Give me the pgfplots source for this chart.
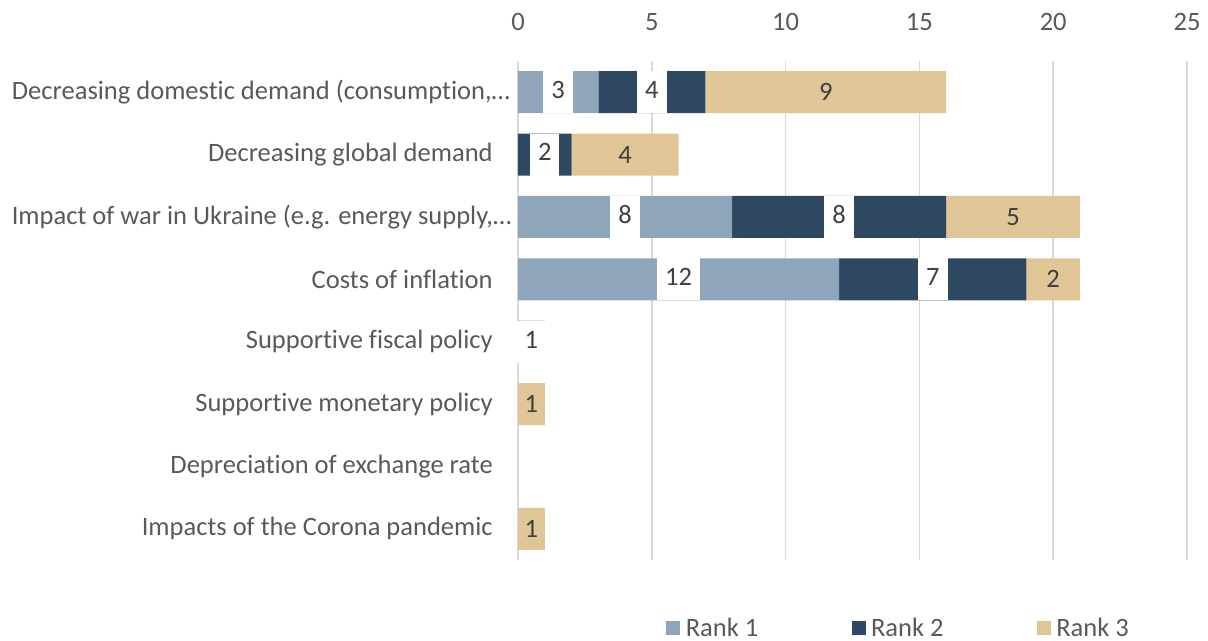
\documentclass[border=0pt]{standalone}
\usepackage{pgfplots}
\usepackage{pgfplotstable}
\usepackage{fontspec}
\setmainfont{Carlito}[Ligatures=NoCommon]
\pgfplotsset{compat=1.18}
\definecolor{cA}{HTML}{8FA6BA}
\definecolor{cB}{HTML}{2E4862}
\definecolor{cC}{HTML}{E0C596}
\definecolor{txt}{HTML}{595959}
\definecolor{lbl}{HTML}{404040}
\definecolor{grd}{HTML}{D9D9D9}
\pgfplotstableread{
idx r1 r2 r3
0 3 4 9
1 0 2 4
2 8 8 5
3 12 7 2
4 1 0 0
5 0 0 1
6 0 0 0
7 0 0 1
}\datatable
\newcommand\fsz{\fontsize{19.9}{23.5}\selectfont}
\pgfplotsset{
  common/.style={
    at={(388.5pt,60.75pt)}, anchor=south west,
    scale only axis, width=501.75pt, height=374.25pt,
    xmin=0, xmax=25, ymin=-0.5, ymax=7.5, y dir=reverse,
    clip=false,
    /pgf/number format/assume math mode=true,
    font=\fsz,
  },
  boxlabel/.style={nodes near coords={\pgfmathfloatifflags{\pgfplotspointmeta}{0}{}{\setlength{\fboxsep}{0pt}\colorbox{white}{\rule[-11pt]{0pt}{31.5pt}\hspace{6pt}\pgfmathprintnumber{\pgfplotspointmeta}\hspace{6pt}}}}},
  plainlabel/.style={nodes near coords={\pgfmathfloatifflags{\pgfplotspointmeta}{0}{}{\pgfmathprintnumber{\pgfplotspointmeta}}}},
}
\begin{document}
\begin{tikzpicture}
\path[use as bounding box] (0,0) rectangle (906pt,480.75pt);
\begin{axis}[
  common,
  xbar stacked, bar width=31.5pt,
  xtick={0,5,...,25}, ytick={0,...,7},
  yticklabels={{Decreasing domestic demand (consumption,…\kern-13pt},
    {Decreasing global demand},
    {Impact of war in Ukraine (e.g. energy supply,…\kern-14pt},
    {Costs of inflation},
    {Supportive fiscal policy},
    {Supportive monetary policy},
    {Depreciation of exchange rate},
    {Impacts of the Corona pandemic}},
  axis line style={draw=none},
  major tick length=0pt,
  tick style={draw=none},
  xmajorgrids, major grid style={grd, line width=1.1pt},
  xticklabel pos=upper,
  xticklabel style={anchor=south, inner sep=0pt, yshift=22.5pt, text=txt},
  yticklabel style={anchor=east, inner sep=0pt, xshift=-18.75pt, text=txt},
  legend columns=3,
  legend style={at={(0.5695,-0.136)}, anchor=center, draw=none, fill=none,
     text=txt, font=\fsz,
     /tikz/every even column/.append style={column sep=68pt},
     /tikz/every odd column/.append style={column sep=2pt}},
  legend image code/.code={\draw[#1,draw=none] (0pt,-5.25pt) rectangle (10.5pt,5.25pt);},
]
\addplot[fill=cA, draw=none] table[x=r1, y=idx] \datatable;
\addplot[fill=cB, draw=none] table[x=r2, y=idx] \datatable;
\addplot[fill=cC, draw=none] table[x=r3, y=idx] \datatable;
\legend{Rank 1, Rank 2, Rank 3}
\end{axis}
\begin{axis}[
  common, hide axis,
  every node near coord/.append style={anchor=center, inner sep=0pt, text=lbl, font=\fsz},
  point meta=explicit,
]
\addplot[draw=none, no markers, boxlabel]
  table[x expr=\thisrow{r1}/2, y=idx, meta=r1] \datatable;
\addplot[draw=none, no markers, boxlabel]
  table[x expr=\thisrow{r1}+\thisrow{r2}/2, y=idx, meta=r2] \datatable;
\addplot[draw=none, no markers, plainlabel]
  table[x expr=\thisrow{r1}+\thisrow{r2}+\thisrow{r3}/2, y=idx, meta=r3] \datatable;
\end{axis}
\end{tikzpicture}
\end{document}
